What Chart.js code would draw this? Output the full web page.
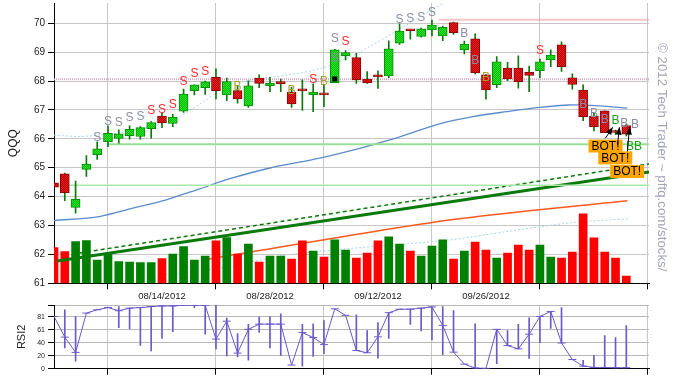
<!DOCTYPE html>
<html>
<head>
<meta charset="utf-8">
<script src="https://cdn.jsdelivr.net/npm/chart.js@4.4.0/dist/chart.umd.min.js"></script>
<style>
  body { margin: 0; background: #fff; }
  #wrap { position: relative; width: 677px; height: 382px; }
  canvas { position: absolute; left: 0; }
  #main { top: 0; }
  #rsi { top: 300px; }
</style>
</head>
<body>
<div id="wrap">
  <canvas id="main" width="677" height="300"></canvas>
  <canvas id="rsi" width="677" height="82"></canvas>
</div>
<script>
// QQQ daily candles, 07/31/2012 .. 10/15/2012 (index 0..53)
const openP = [64.48, 64.79, 63.63, 64.94, 65.45, 65.90, 66.01, 66.11, 66.08, 66.35,
  66.79, 66.53, 66.96, 67.67, 67.77, 68.13, 67.52, 67.67, 67.14, 68.10,
  67.84, 67.93, 67.62, 67.72, 67.53, 67.59, 67.94, 68.88, 68.81, 68.07,
  68.21, 68.18, 69.31, 69.77, 69.54, 69.77, 69.56, 70.02, 69.08, 69.46,
  68.21, 67.87, 68.45, 68.45, 68.31, 68.36, 68.73, 69.25, 68.11, 67.69,
  66.79, 66.97, 66.25, 66.46];
const closeP = [64.33, 64.14, 63.91, 65.13, 65.65, 66.19, 66.17, 66.33, 66.39, 66.56,
  66.56, 66.75, 67.55, 67.87, 67.97, 67.67, 67.98, 67.38, 67.83, 67.92,
  67.92, 67.91, 67.21, 67.66, 67.62, 67.52, 69.08, 68.98, 68.04, 67.93,
  68.14, 69.11, 69.73, 69.74, 69.81, 69.94, 69.86, 69.67, 69.28, 68.29,
  67.69, 68.66, 68.07, 67.98, 68.19, 68.66, 68.90, 68.50, 67.88, 66.77,
  66.42, 66.21, 66.22, 66.16];
const highP = [64.48, 64.81, 64.54, 65.42, 65.90, 66.45, 66.31, 66.45, 66.42, 66.60,
  66.91, 66.85, 67.72, 67.87, 68.00, 68.42, 68.10, 67.84, 68.01, 68.21,
  68.13, 68.07, 67.79, 68.04, 67.90, 67.88, 69.10, 69.05, 68.96, 68.33,
  68.35, 69.39, 69.98, 69.77, 69.83, 70.11, 69.90, 70.04, 69.38, 69.63,
  68.22, 68.85, 68.65, 68.87, 68.52, 68.76, 69.08, 69.36, 68.25, 67.87,
  66.91, 66.97, 66.30, 66.50];
const lowP = [64.33, 63.86, 63.43, 64.70, 65.29, 65.73, 65.85, 65.99, 65.99, 66.02,
  66.39, 66.42, 66.91, 67.52, 67.54, 67.38, 67.32, 67.23, 67.09, 67.77,
  67.63, 67.63, 67.09, 66.98, 66.94, 67.11, 67.94, 68.73, 67.92, 67.92,
  67.74, 68.12, 69.27, 69.45, 69.52, 69.56, 69.40, 69.61, 68.94, 68.25,
  67.37, 67.77, 68.01, 67.75, 67.63, 68.12, 68.50, 68.33, 67.72, 66.63,
  66.27, 66.21, 66.15, 66.10];
// volume in millions, and whether the bar is an up (green) bar
const volume = [35.6, 31.6, 41.6, 42.6, 23.3, 29.0, 21.6, 21.3, 20.6, 20.6,
  24.6, 29.3, 36.6, 23.3, 27.3, 42.3, 45.6, 29.3, 39.3, 21.3,
  27.3, 27.3, 24.3, 42.3, 32.3, 26.3, 43.3, 33.3, 25.3, 30.3,
  42.3, 46.3, 39.3, 32.3, 27.3, 37.3, 43.3, 24.3, 32.3, 41.3,
  33.3, 25.3, 30.3, 38.3, 33.3, 38.3, 26.3, 25.3, 31.3, 69.3,
  45.3, 31.3, 25.3, 7.3];
const volUp = [0, 0, 1, 1, 1, 1, 1, 1, 1, 1, 0, 1, 1, 1, 1, 0, 1, 0, 1, 0,
  1, 1, 0, 0, 1, 0, 1, 1, 0, 0, 0, 1, 1, 0, 1, 1, 1, 0, 1, 0,
  0, 1, 0, 0, 0, 1, 1, 0, 0, 0, 0, 0, 0, 0];

// indicator curves, read as [dayIndex, price]
const smaPts = [[0, 63.17], [4.2, 63.31], [7.3, 63.60], [10.4, 63.89], [13.5, 64.27], [16.3, 64.62],
  [20, 64.99], [24.6, 65.33], [28.3, 65.67], [31.1, 65.96], [35.7, 66.52], [38.8, 66.77],
  [41.9, 66.94], [45, 67.09], [47.7, 67.17], [50.5, 67.14], [53.1, 67.06]];
const upperPts = [[0, 66.13], [2.4, 66.08], [4.2, 66.13], [6.1, 66.21], [8.8, 66.42], [10.7, 66.60],
  [12.2, 66.89], [14.1, 67.35], [16.3, 67.87], [25.7, 68.56], [36.6, 70.81]];
const lowerPts = [[7.9, 60.94], [10.4, 61.31], [11.6, 61.35], [16.3, 61.58], [18.4, 61.75], [21.5, 61.98],
  [27.6, 62.21], [36.6, 62.50], [41.9, 62.79], [48, 63.10], [53.1, 63.23]];
const longPts = [[14, 61.82], [15.3, 61.90], [36.6, 63.19], [53.1, 63.86]];
const trendSolid = [[0.3, 61.77], [55.1, 64.85]];
const trendDashed = [[2.4, 62.05], [55.1, 65.13]];
const pinkLevel = [[0, 68.06], [55.1, 68.06]];
const redLevel = [[35.7, 70.12], [55.1, 70.12]];
const greenLevelHi = [[4.9, 65.81], [55.1, 65.81]];
const greenLevelLo = [[0, 64.39], [55.1, 64.39]];

// signal letters: day index, price, text, kind
const sigIdx = [4, 5, 6, 7, 8, 9, 10, 11, 12, 13, 14, 17, 22, 24, 25, 26, 26, 27, 32, 33, 34, 35,
  38, 39, 40, 45, 49, 50, 51, 52, 52.8, 53.8, 53.7];
const sigPrice = [66.05, 66.60, 66.58, 66.76, 66.79, 67.00, 67.03, 67.19, 67.98, 68.28, 68.35, 67.83,
  67.69, 68.05, 67.99, 69.49, 68.80, 69.37, 70.15, 70.17, 70.22, 70.37,
  69.67, 68.71, 68.14, 69.06, 67.21, 66.90, 66.69, 66.65, 66.53, 66.51, 65.75];
const sigText = ['S', 'S', 'S', 'S', 'S', 'S', 'S', 'S', 'S', 'S', 'S', 'B', 'B', 'S', 'B', 'S', 'S', 'S',
  'S', 'S', 'S', 'S', 'B', 'B', 'B', 'S', 'B', 'B', 'B', 'B', 'B', 'B', 'BB'];
const sigKind = ['g', 'g', 'g', 'g', 'g', 'r', 'r', 'r', 'r', 'r', 'r', 'o', 'o', 'r', 'o', 'g', 'g', 'r',
  'g', 'g', 'g', 'g', 'g', 'g', 'o', 'r', 'g', 'g', 'g', 'G', 'g', 'g', 'G'];
const marker = [26, 68.07];
// "BOT!" boxes: left day index, centre price; arrows: from -> to
const botIdx = [49.5, 50.4, 51.5];
const botPrice = [65.75, 65.34, 64.87];
const arrowFrom = [[51.06, 66.02], [52.18, 65.79], [53.1, 65.56]];
const arrowTo = [[51.74, 66.40], [52.36, 66.40], [53.29, 66.40]];

// RSI(2) per day and the vertical range drawn with it
const rsi = [82, 49.6, 25.6, 87.3, 92.5, 96, 91, 95, 96, 97.5,
  98.6, 98.6, 99.6, 99.6, 99.6, 46.5, 74.6, 24.5, 61.8, 70,
  70, 70, 5.7, 56.7, 49, 37.8, 94, 83.8, 28.6, 25,
  50, 87.9, 93.4, 93.4, 95, 97, 68, 26, 7.2, 1,
  0.5, 61.8, 36.3, 31.2, 54.2, 82, 89.9, 40.4, 14.4, 4.1,
  2, 2, 1.5, 1.5];
const rsiRange = [null, [32.8, 92.5], [12, 82], null, null, null, [64.3, 97.5], [63, 95], [36.6, 96], [27.9, 97.5],
  [47.6, 98.6], [58.3, 98.6], null, [96, 99.6], [54.2, 99.6], [31.2, 99.6], [19.9, 79.6], [18.4, 55], [13.4, 69.5], [57, 81],
  [32.8, 82], [21, 86], null, [4, 69.5], [19.4, 70.5], [23.5, 75.6], null, null, [28.6, 84.7], [25, 60],
  [16.5, 72.3], [47.6, 87.9], null, [69.5, 93.4], [59.4, 95], [45, 97], [22, 97.5], [26, 91.4], null, [1, 70.5],
  null, [8, 61.8], [36.3, 60], [31.2, 69.5], [16, 80], [41, 82], [63.3, 89.9], [40, 96], null, [4.1, 13],
  [2, 21], [2, 52], [1.5, 49], [1.5, 67.5]];

const priceTicks = [61, 62, 63, 64, 65, 66, 67, 68, 69, 70];
const rsiTicks = [0, 20.4, 40.8, 61.2, 81.6, 100];
const dateTickIdx = [10, 20, 30, 40, 50];
const dateTickLabels = ['08/14/2012', '08/28/2012', '09/12/2012', '09/26/2012', ''];

const FONT = '"Liberation Sans", Arial, sans-serif';
const xMax = 55.1;

function dither(c1, c2) {
  const p = document.createElement('canvas');
  p.width = p.height = 2;
  const g = p.getContext('2d');
  g.fillStyle = c1; g.fillRect(0, 0, 2, 2);
  g.fillStyle = c2; g.fillRect(0, 0, 1, 1); g.fillRect(1, 1, 1, 1);
  return g.createPattern(p, 'repeat');
}
const upFill = dither('#00c000', '#30e030');
const downFill = dither('#c00000', '#e02020');

function fixSize(size) {
  return function (s) {
    if (s.isHorizontal()) s.height = size; else s.width = size;
    s.paddingTop = s.paddingBottom = s.paddingLeft = s.paddingRight = 0;
  };
}
const pts = arr => arr.map(p => ({ x: p[0], y: p[1] }));
const days = openP.map((_, i) => i);
const isUp = i => closeP[i] >= openP[i];

function lineDs(data, color, width, extra) {
  return Object.assign({
    type: 'line', data: pts(data), borderColor: color, borderWidth: width,
    pointRadius: 0, tension: 0.3, fill: false, order: 6
  }, extra || {});
}

const overlay = {
  id: 'overlay',
  afterDatasetsDraw(chart) {
    const { ctx, scales: { x, y } } = chart;
    ctx.save();
    // black square marker
    ctx.fillStyle = '#000';
    ctx.fillRect(x.getPixelForValue(marker[0]) - 2.5, y.getPixelForValue(marker[1]) - 2.5, 5, 5);

    const kindColor = { g: '#8c8ca8', r: '#ff2a2a', o: '#a6a232', G: '#1e9e1e' };
    ctx.font = '12px ' + FONT;
    ctx.textAlign = 'center';
    ctx.textBaseline = 'middle';
    sigIdx.forEach((v, k) => {
      ctx.fillStyle = kindColor[sigKind[k]];
      ctx.fillText(sigText[k], x.getPixelForValue(v), y.getPixelForValue(sigPrice[k]) + 0.5);
    });

    // BOT! boxes
    ctx.textAlign = 'left';
    botIdx.forEach((v, k) => {
      const bx = x.getPixelForValue(v), by = y.getPixelForValue(botPrice[k]);
      const w = ctx.measureText('BOT!').width + 6;
      ctx.fillStyle = '#ffa500';
      ctx.fillRect(bx, by - 6.5, w, 13);
      ctx.fillStyle = '#000';
      ctx.fillText('BOT!', bx + 3, by + 0.5);
    });

    // arrows
    ctx.strokeStyle = '#000';
    ctx.fillStyle = '#000';
    ctx.lineWidth = 1;
    arrowFrom.forEach((f, k) => {
      const x1 = x.getPixelForValue(f[0]), y1 = y.getPixelForValue(f[1]);
      const x2 = x.getPixelForValue(arrowTo[k][0]), y2 = y.getPixelForValue(arrowTo[k][1]);
      const a = Math.atan2(y2 - y1, x2 - x1);
      ctx.beginPath(); ctx.moveTo(x1, y1); ctx.lineTo(x2, y2); ctx.stroke();
      ctx.beginPath();
      ctx.moveTo(x2, y2);
      ctx.lineTo(x2 - 8 * Math.cos(a - 0.4), y2 - 8 * Math.sin(a - 0.4));
      ctx.lineTo(x2 - 8 * Math.cos(a + 0.4), y2 - 8 * Math.sin(a + 0.4));
      ctx.closePath(); ctx.fill();
    });

    // copyright, rotated
    ctx.translate(662, 43);
    ctx.rotate(Math.PI / 2);
    ctx.font = '13.3px ' + FONT;
    ctx.fillStyle = '#a4a4b8';
    ctx.textAlign = 'left';
    ctx.fillText('\u00a9 2012 Tech Trader ~ pftq.com/stocks/', 0, 0);
    ctx.restore();
  }
};

const dateAxis = (showLabels, h) => ({
  type: 'linear', min: 0, max: xMax, offset: false,
  afterBuildTicks: s => { s.ticks = dateTickIdx.map(v => ({ value: v })); },
  afterFit: fixSize(h),
  grid: { color: '#c8c8c8', tickColor: '#000', tickLength: 6, lineWidth: 1 },
  border: { display: true, color: '#000' },
  ticks: {
    autoSkip: false, maxRotation: 0, padding: 1,
    font: { size: 9.5, family: FONT }, color: '#222',
    callback: v => showLabels ? dateTickLabels[dateTickIdx.indexOf(v)] : ''
  }
});

new Chart(document.getElementById('main'), {
  type: 'bar',
  data: {
    datasets: [
      lineDs(longPts, '#ff5a1e', 1.5, { order: 12 }),
      lineDs(lowerPts, '#a8d4ee', 1, { borderDash: [2, 2], order: 12 }),
      {
        type: 'bar', yAxisID: 'yv', grouped: false, order: 10,
        data: days.map(i => ({ x: i, y: volume[i] })),
        backgroundColor: days.map(i => volUp[i] ? '#008000' : '#ff0000'),
        barThickness: 8
      },
      lineDs(pinkLevel, 'rgba(215,160,200,0.9)', 2, { borderDash: [1, 1], tension: 0 }),
      lineDs(redLevel, 'rgba(235,120,120,0.85)', 2, { borderDash: [1, 1], tension: 0 }),
      lineDs(greenLevelHi, '#98e098', 2, { tension: 0 }),
      lineDs(greenLevelLo, '#a8e8a8', 1.5, { tension: 0 }),
      lineDs(upperPts, '#a8d4ee', 1, { borderDash: [2, 2] }),
      lineDs(smaPts, '#5a8ccc', 1.3),
      lineDs(trendDashed, '#0a7a0a', 1.5, { borderDash: [4, 3], tension: 0 }),
      lineDs(trendSolid, '#0a7a0a', 3, { tension: 0 }),
      {
        type: 'bar', grouped: false, order: 3,
        data: days.map(i => ({ x: i, y: [lowP[i], highP[i]] })),
        backgroundColor: '#0a7a0a', barThickness: 1
      },
      {
        type: 'bar', grouped: false, order: 2, minBarLength: 2,
        data: days.map(i => ({ x: i, y: [Math.min(openP[i], closeP[i]), Math.max(openP[i], closeP[i])] })),
        backgroundColor: days.map(i => isUp(i) ? upFill : downFill),
        borderColor: days.map(i => isUp(i) ? '#009000' : '#900000'),
        borderWidth: 1, borderSkipped: false, barThickness: 9
      }
    ]
  },
  options: {
    responsive: false, animation: false, events: [],
    layout: { padding: { top: 3, right: 28, left: 0, bottom: 0 } },
    plugins: { legend: { display: false }, tooltip: { enabled: false } },
    scales: {
      x: dateAxis(true, 16.7),
      y: {
        type: 'linear', min: 61, max: 70.7, position: 'left',
        afterBuildTicks: s => { s.ticks = priceTicks.map(v => ({ value: v })); },
        afterFit: fixSize(54),
        grid: { color: '#c8c4c8', tickColor: '#000', tickLength: 6 },
        border: { display: true, color: '#000' },
        ticks: { padding: 3, font: { size: 10, family: FONT }, color: '#222' },
        title: { display: true, text: 'QQQ', font: { size: 12, family: FONT }, color: '#222', padding: { top: 6, bottom: 0 } }
      },
      yv: { type: 'linear', display: false, min: 0, max: 280, position: 'right' }
    }
  },
  plugins: [overlay]
});

new Chart(document.getElementById('rsi'), {
  type: 'bar',
  data: {
    datasets: [
      {
        type: 'line', data: days.map(i => ({ x: i, y: rsi[i] })),
        borderColor: '#6a5acd', borderWidth: 1, tension: 0,
        pointStyle: 'line', pointRadius: 4, pointBorderColor: '#6a5acd', pointBorderWidth: 1, order: 1
      },
      {
        type: 'bar', grouped: false, order: 2,
        data: days.filter(i => rsiRange[i]).map(i => ({ x: i, y: rsiRange[i] })),
        backgroundColor: '#6a5acd', barThickness: 1
      }
    ]
  },
  options: {
    responsive: false, animation: false, events: [],
    layout: { padding: { top: 3.3, right: 28, left: 0, bottom: 0 } },
    plugins: { legend: { display: false }, tooltip: { enabled: false } },
    scales: {
      x: dateAxis(false, 13.3),
      y: {
        type: 'linear', min: 0, max: 100, position: 'left',
        afterBuildTicks: s => { s.ticks = rsiTicks.map(v => ({ value: v })); },
        afterFit: fixSize(54),
        grid: { color: '#b8b8b8', tickColor: '#000', tickLength: 6 },
        border: { display: true, color: '#000' },
        ticks: { padding: 3, font: { size: 7, family: FONT }, color: '#222', callback: v => v === 100 ? '' : String(Math.floor(v)) },
        title: { display: true, text: 'RSI2', font: { size: 11, family: FONT }, color: '#222', padding: { top: 15, bottom: 0 } }
      }
    }
  }
});
</script>
</body>
</html>
